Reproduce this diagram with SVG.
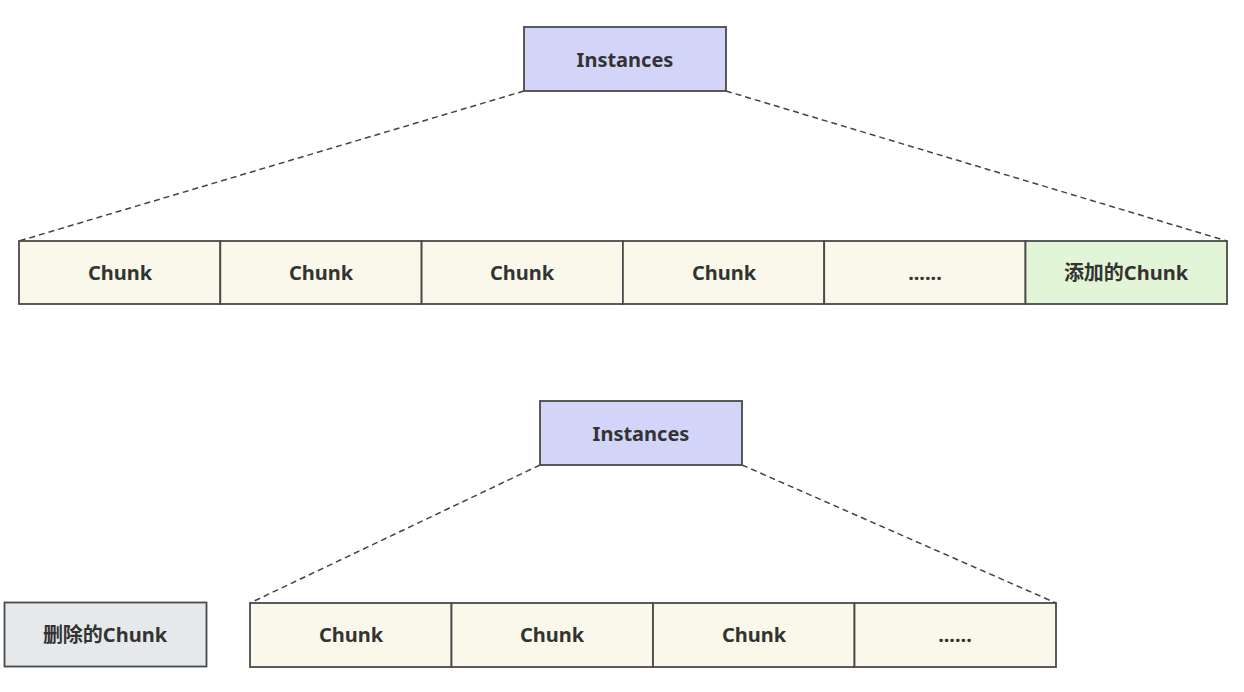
<svg xmlns="http://www.w3.org/2000/svg" width="1244" height="692" viewBox="0 0 1244 692">
<style>
.box{stroke:#4a4a4a;stroke-width:1.8}
.inst{fill:#d3d5f8}
.chunk{fill:#f9f8ea}
.add{fill:#e3f5d7}
.del{fill:#e6e9eb}
.t{font-family:"Noto Sans","Noto Sans CJK SC",sans-serif;font-weight:bold;font-size:20px;fill:#333;text-anchor:middle;dominant-baseline:central}
.dash{stroke:#444;stroke-width:1.5;stroke-dasharray:6 4;fill:none}
</style>
<rect width="1244" height="692" fill="#fff"/>
<g id="connectors">
<line class="dash" x1="524" y1="91" x2="19" y2="241"/>
<line class="dash" x1="726" y1="91" x2="1227" y2="241"/>
<line class="dash" x1="540" y1="465" x2="250" y2="603"/>
<line class="dash" x1="742" y1="465" x2="1056" y2="603"/>
</g>
<g id="instances-top"><rect class="box inst" x="524" y="27" width="202" height="64"/><text class="t" x="625" y="59">Instances</text></g>
<g id="chunk-t1"><rect class="box chunk" x="19" y="241" width="201.3" height="63"/><text class="t" x="120" y="272">Chunk</text></g>
<g id="chunk-t2"><rect class="box chunk" x="220.3" y="241" width="201.3" height="63"/><text class="t" x="321" y="272">Chunk</text></g>
<g id="chunk-t3"><rect class="box chunk" x="421.6" y="241" width="201.3" height="63"/><text class="t" x="522" y="272">Chunk</text></g>
<g id="chunk-t4"><rect class="box chunk" x="622.9" y="241" width="201.3" height="63"/><text class="t" x="724" y="272">Chunk</text></g>
<g id="chunk-t5"><rect class="box chunk" x="824.2" y="241" width="201.3" height="63"/><text class="t" x="925" y="272">......</text></g>
<g id="chunk-added"><rect class="box add" x="1025.5" y="241" width="201.5" height="63"/><text class="t" x="1126" y="272">添加的Chunk</text></g>
<g id="instances-bottom"><rect class="box inst" x="540" y="401" width="202" height="64"/><text class="t" x="641" y="433">Instances</text></g>
<g id="chunk-deleted"><rect class="box del" x="4.5" y="602.5" width="202" height="64"/><text class="t" x="105" y="634">删除的Chunk</text></g>
<g id="chunk-b1"><rect class="box chunk" x="250" y="603" width="201.5" height="64"/><text class="t" x="351" y="634">Chunk</text></g>
<g id="chunk-b2"><rect class="box chunk" x="451.5" y="603" width="201.5" height="64"/><text class="t" x="552" y="634">Chunk</text></g>
<g id="chunk-b3"><rect class="box chunk" x="653" y="603" width="201.5" height="64"/><text class="t" x="754" y="634">Chunk</text></g>
<g id="chunk-b4"><rect class="box chunk" x="854.5" y="603" width="201.5" height="64"/><text class="t" x="955" y="634">......</text></g>
</svg>
